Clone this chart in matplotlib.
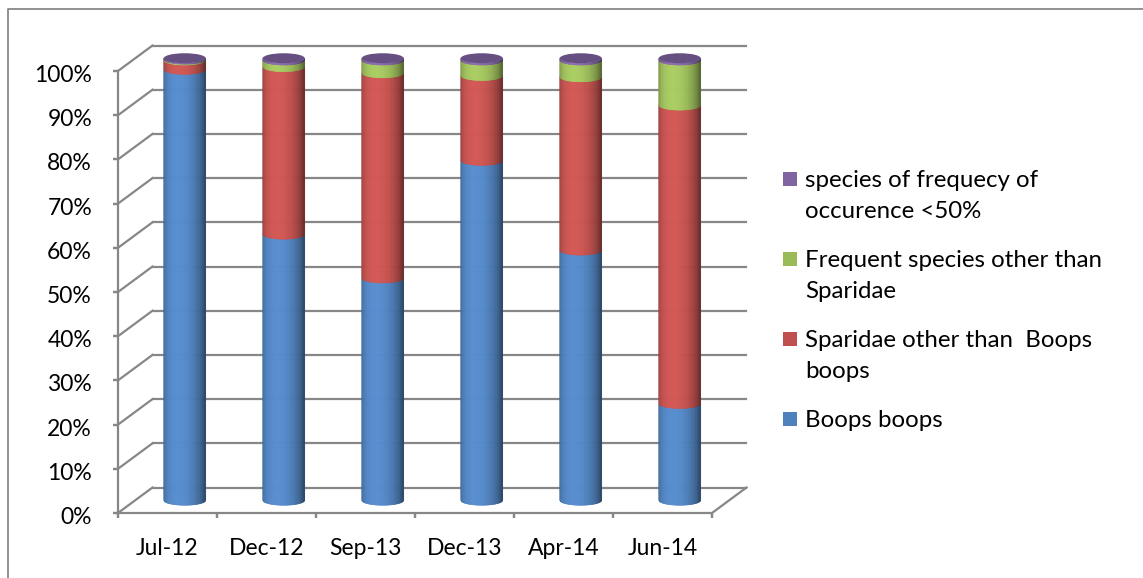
import numpy as np
import matplotlib
matplotlib.use("Agg")
import matplotlib.pyplot as plt
from matplotlib.collections import PolyCollection
from matplotlib.patches import Ellipse, Rectangle
from matplotlib.lines import Line2D
from matplotlib.transforms import ScaledTranslation
from matplotlib.colors import to_rgb

# ---- data -------------------------------------------------------------
categories = ["Jul-12", "Dec-12", "Sep-13", "Dec-13", "Apr-14", "Jun-14"]
boops_boops = [97.5, 60.2, 50.3, 76.9, 56.6, 21.9]
other_sparidae = [2.1, 37.9, 46.4, 19.2, 39.2, 67.5]
frequent_other = [0.2, 1.5, 2.9, 3.5, 3.8, 10.2]
rare_species = [0.2, 0.4, 0.4, 0.4, 0.4, 0.4]

series_values = [boops_boops, other_sparidae, frequent_other, rare_species]
series_labels = [
    "Boops boops",
    "Sparidae other than  Boops\nboops",
    "Frequent species other than\nSparidae",
    "species of frequecy of\noccurence <50%",
]
series_colors = ["#4F81BD", "#C0504D", "#9BBB59", "#8064A2"]
y_ticks = list(range(0, 101, 10))
y_tick_labels = [f"{v}%" for v in y_ticks]

# ---- figure / layout ---------------------------------------------------
W, H, DPI = 1143, 578, 100
FONT = "Lato"
FS_TICK = 16.5
FS_LEG = 17.3
GRID = "#878787"

fig = plt.figure(figsize=(W / DPI, H / DPI), dpi=DPI)
fig.patch.set_facecolor("white")

# front plane of the 3-D box, in pixels
left_px, right_px, bottom_px, top_px = 118, 712, 513, 71
ax = fig.add_axes([left_px / W, 1 - bottom_px / H,
                   (right_px - left_px) / W, (bottom_px - top_px) / H])
n = len(categories)
ax.set_xlim(-0.5, n - 0.5)
ax.set_ylim(0, 100)
ax.axis("off")

# depth of the box (pixel shift of the back wall relative to the front)
DEPTH_DX, DEPTH_DY = 34.5, 25.5

px_x = ax.transData.transform((1, 0))[0] - ax.transData.transform((0, 0))[0]
px_y = ax.transData.transform((0, 1))[1] - ax.transData.transform((0, 0))[1]
back_dx, back_dy = DEPTH_DX / px_x, DEPTH_DY / px_y
mid_dx, mid_dy = back_dx / 2, back_dy / 2


def off(dx_px, dy_px):
    return ax.transData + ScaledTranslation(dx_px / DPI, dy_px / DPI, fig.dpi_scale_trans)


LW = 1.6
x0, x1 = -0.5, n - 0.5
# back wall gridlines and side wall diagonals
for v, lab in zip(y_ticks, y_tick_labels):
    ax.add_line(Line2D([x0 + back_dx, x1 + back_dx], [v + back_dy, v + back_dy],
                       color=GRID, lw=LW, clip_on=False, zorder=1))
    ax.add_line(Line2D([x0, x0 + back_dx], [v, v + back_dy],
                       color=GRID, lw=LW, clip_on=False, zorder=1))
    # tick mark on the vertical axis
    ax.add_line(Line2D([x0, x0], [v, v], color=GRID, lw=LW, clip_on=False,
                       zorder=1, marker=[(-1, 0), (0, 0)], markersize=7,
                       markeredgewidth=LW))
    ax.text(x0, v, lab, transform=off(-26, -11), ha="right",
            va="baseline", fontsize=FS_TICK, family=FONT, color="black")

# front vertical axis and floor
ax.add_line(Line2D([x0, x0], [0, 100], color=GRID, lw=LW, clip_on=False, zorder=1))
ax.add_line(Line2D([x0, x1], [0, 0], color=GRID, lw=LW, clip_on=False, zorder=1))
ax.add_line(Line2D([x1, x1 + back_dx], [0, back_dy], color=GRID, lw=LW,
                   clip_on=False, zorder=1))
for b in np.arange(x0, x1 + 0.01, 1.0):
    ax.add_line(Line2D([b, b], [0, 0], color=GRID, lw=LW, clip_on=False,
                       marker=[(0, 0), (0, -1)], markersize=7,
                       markeredgewidth=LW, zorder=1))
for i, cat in enumerate(categories):
    ax.text(i, 0, cat, transform=off(0, -42), ha="center", va="baseline",
            fontsize=FS_TICK, family=FONT, color="black")

# ---- cylinders ---------------------------------------------------------
R = 21.0 / px_x          # cylinder radius (x data units)
E = 5.0 / px_y           # half height of the elliptical cross-section
N_STRIPS = 60


def shade(rgb, t):
    theta = np.arcsin(np.clip(2 * t - 1, -1, 1))
    k = 0.56 + 0.54 * max(np.cos(theta + 0.3), 0.0)
    return tuple(np.clip(np.array(rgb) * k, 0, 1))


values = np.array(series_values, dtype=float)
totals = values.sum(axis=0)
cum = np.vstack([np.zeros(n), np.cumsum(values, axis=0)]) / totals * 100

for i in range(n):
    c = i + mid_dx
    edges = np.linspace(c - R, c + R, N_STRIPS + 1)

    def arc(x, v):
        u = np.clip((x - c) / R, -1, 1)
        return v + mid_dy - E * np.sqrt(1 - u ** 2)

    for s in range(len(series_values)):
        v0, v1 = cum[s, i], cum[s + 1, i]
        base = to_rgb(series_colors[s])
        polys, cols = [], []
        for k in range(N_STRIPS):
            xa, xb = edges[k], edges[k + 1]
            polys.append([(xa, arc(xa, v0)), (xb, arc(xb, v0)),
                          (xb, arc(xb, v1)), (xa, arc(xa, v1))])
            cols.append(shade(base, (k + 0.5) / N_STRIPS))
        pc = PolyCollection(polys, facecolors=cols, edgecolors=cols,
                            linewidths=0.4, clip_on=False, zorder=3)
        ax.add_collection(pc)
    top_rgb = np.array(to_rgb(series_colors[-1])) * 0.8
    ax.add_patch(Ellipse((c, 100 + mid_dy), 2 * R, 2 * E, facecolor=top_rgb,
                         edgecolor="none", clip_on=False, zorder=4))

# ---- legend ------------------------------------------------------------
leg_x_marker, leg_x_text = 783, 805
baseline = 187
LINE_STEP, ENTRY_GAP = 31, 18
for s in reversed(range(len(series_labels))):
    lines = series_labels[s].split("\n")
    fig.patches.append(Rectangle((leg_x_marker / W, 1 - (baseline - 1) / H),
                                 14 / W, 14 / H, transform=fig.transFigure,
                                 facecolor=series_colors[s], edgecolor="none"))
    for j, line in enumerate(lines):
        fig.text(leg_x_text / W, 1 - (baseline + j * LINE_STEP) / H, line,
                 ha="left", va="baseline", fontsize=FS_LEG, family=FONT, color="black")
    baseline += len(lines) * LINE_STEP + ENTRY_GAP

# chart-area border
fig.lines.append(Line2D([8 / W, 8 / W, 1.0], [0.0, 1 - 9 / H, 1 - 9 / H],
                        transform=fig.transFigure, color="#888888", lw=1.3))

fig.savefig("out.png", dpi=DPI, facecolor="white")
